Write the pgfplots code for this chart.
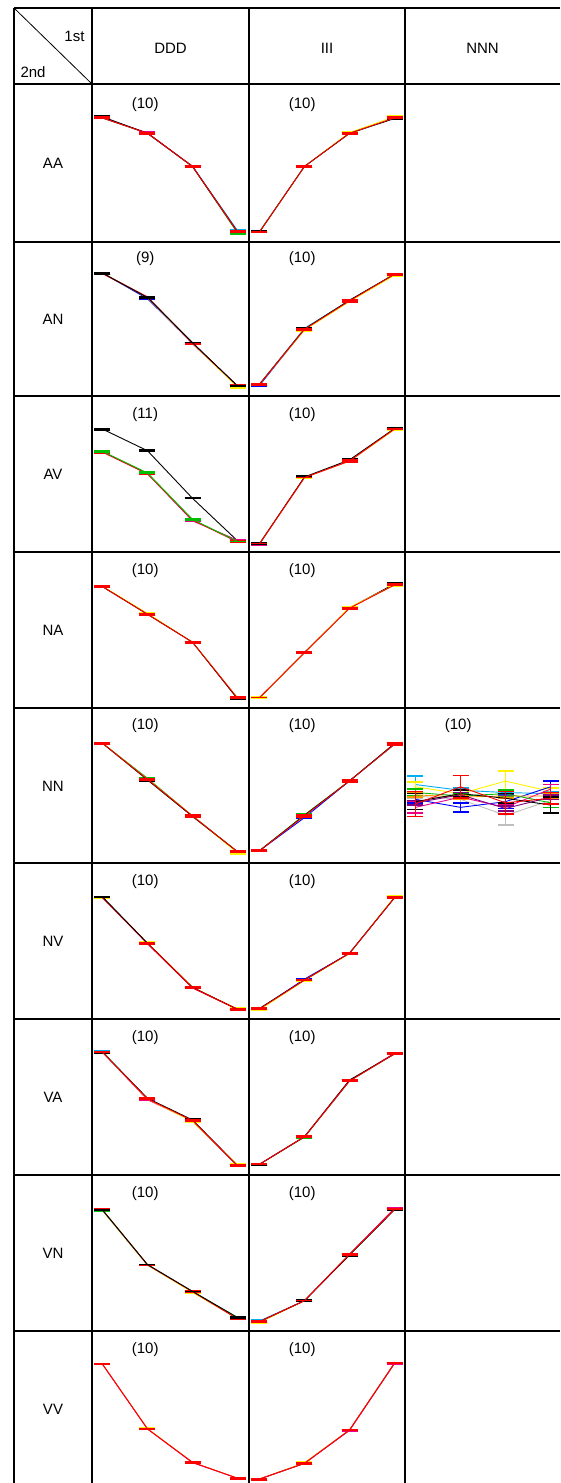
\documentclass[border=0pt]{standalone}
\usepackage{pgfplots}
\pgfplotsset{compat=1.18}
\usepackage{fontspec}
\setmainfont{Liberation Sans}
\definecolor{dgreen}{RGB}{0,190,0}
\definecolor{lgray}{RGB}{190,190,190}
\definecolor{ora}{RGB}{255,150,0}

\pgfplotsset{
  cell/.style={anchor=south west, scale only axis, width=156pt, height=156pt,
    axis lines=none, xmin=-0.233, xmax=3.233, ymin=-0.088, ymax=1.28, clip=false},
  eb/.style={no markers, line width=0.9pt,
    error bars/y dir=both, error bars/y explicit,
    error bars/error bar style={line width=0.9pt, solid},
    error bars/error mark options={rotate=90, line width=1.6pt, mark size=8pt}},
}
\newcommand{\nlab}[1]{\node[font=\fontsize{15}{18}\selectfont] at (axis cs:0.95,1.12) {(#1)};}

\begin{document}
\begin{tikzpicture}[x=1pt,y=1pt]
\path[use as bounding box] (0,0) rectangle (560,-1483);
\tikzset{lab/.style={font=\fontsize{15}{18}\selectfont}}

% table lines
\draw[line width=1.3pt] (14,-8) -- (560,-8);
\foreach \yy in {84,242,396,552,708,863,1019,1175,1331}
  \draw[line width=1.3pt] (14,-\yy) -- (560,-\yy);
\foreach \xx in {14,92,249,405}
  \draw[line width=1.3pt] (\xx,-8) -- (\xx,-1483);
\draw[line width=0.8pt] (14,-8) -- (92,-84);

% header
\node[lab, anchor=east] at (88,-36) {1st};
\node[lab, anchor=west] at (17,-72) {2nd};
\node[lab] at (170.5,-48) {DDD};
\node[lab] at (327,-48) {III};
\node[lab] at (482.5,-48) {NNN};
\node[lab] at (53,-163) {AA};
\node[lab] at (53,-319) {AN};
\node[lab] at (53,-474) {AV};
\node[lab] at (53,-630) {NA};
\node[lab] at (53,-786) {NN};
\node[lab] at (53,-941) {NV};
\node[lab] at (53,-1097) {VA};
\node[lab] at (53,-1253) {VN};
\node[lab] at (53,-1409) {VV};

% ---- AA ----
\begin{axis}[cell, at={(92pt,-242pt)}]
\addplot[cyan, eb] coordinates {(0,1.0) +- (0,0.006) (1,0.865) +- (0,0.006) (2,0.575) +- (0,0.006) (3,0.012) +- (0,0.006)};
\addplot[dgreen, eb] coordinates {(0,1.0) +- (0,0.006) (1,0.865) +- (0,0.006) (2,0.575) +- (0,0.006) (3,-0.01) +- (0,0.006)};
\addplot[magenta, eb] coordinates {(0,1.0) +- (0,0.006) (1,0.869) +- (0,0.006) (2,0.575) +- (0,0.006) (3,0.0) +- (0,0.006)};
\addplot[black, eb] coordinates {(0,1.01) +- (0,0.006) (1,0.865) +- (0,0.006) (2,0.575) +- (0,0.006) (3,0.002) +- (0,0.006)};
\addplot[red, eb] coordinates {(0,1.0) +- (0,0.006) (1,0.865) +- (0,0.006) (2,0.575) +- (0,0.006) (3,0.0) +- (0,0.006)};
\nlab{10}
\end{axis}
\begin{axis}[cell, at={(249pt,-242pt)}]
\addplot[cyan, eb] coordinates {(0,0.004) +- (0,0.006) (1,0.575) +- (0,0.006) (2,0.865) +- (0,0.006) (3,1.0) +- (0,0.006)};
\addplot[yellow, eb] coordinates {(0,0.0) +- (0,0.006) (1,0.575) +- (0,0.006) (2,0.872) +- (0,0.006) (3,1.01) +- (0,0.006)};
\addplot[black, eb] coordinates {(0,0.0) +- (0,0.006) (1,0.575) +- (0,0.006) (2,0.865) +- (0,0.006) (3,0.995) +- (0,0.006)};
\addplot[red, eb] coordinates {(0,0.0) +- (0,0.0) (1,0.575) +- (0,0.006) (2,0.865) +- (0,0.006) (3,1.0) +- (0,0.006)};
\nlab{10}
\end{axis}

% ---- AN ----
\begin{axis}[cell, at={(92pt,-396pt)}]
\addplot[magenta, eb] coordinates {(0,0.99) +- (0,0.006) (1,0.78) +- (0,0.006) (2,0.37) +- (0,0.006) (3,0.0) +- (0,0.006)};
\addplot[blue, eb] coordinates {(0,0.99) +- (0,0.006) (1,0.765) +- (0,0.006) (2,0.375) +- (0,0.006) (3,0.0) +- (0,0.006)};
\addplot[yellow, eb] coordinates {(0,0.99) +- (0,0.006) (1,0.775) +- (0,0.006) (2,0.375) +- (0,0.006) (3,-0.012) +- (0,0.006)};
\addplot[red, eb] coordinates {(0,0.985) +- (0,0.006) (1,0.78) +- (0,0.006) (2,0.375) +- (0,0.006) (3,0.0) +- (0,0.006)};
\addplot[black, eb] coordinates {(0,0.99) +- (0,0.006) (1,0.775) +- (0,0.006) (2,0.38) +- (0,0.0) (3,0.0) +- (0,0.0)};
\nlab{9}
\end{axis}
\begin{axis}[cell, at={(249pt,-396pt)}]
\addplot[blue, eb] coordinates {(0,0.005) +- (0,0.006) (1,0.497) +- (0,0.006) (2,0.746) +- (0,0.006) (3,0.98) +- (0,0.006)};
\addplot[cyan, eb] coordinates {(0,0.015) +- (0,0.006) (1,0.505) +- (0,0.006) (2,0.75) +- (0,0.006) (3,0.98) +- (0,0.006)};
\addplot[yellow, eb] coordinates {(0,0.015) +- (0,0.006) (1,0.49) +- (0,0.006) (2,0.74) +- (0,0.006) (3,0.97) +- (0,0.006)};
\addplot[black, eb] coordinates {(0,0.015) +- (0,0.006) (1,0.5) +- (0,0.006) (2,0.752) +- (0,0.006) (3,0.98) +- (0,0.006)};
\addplot[red, eb] coordinates {(0,0.015) +- (0,0.006) (1,0.497) +- (0,0.006) (2,0.746) +- (0,0.01) (3,0.98) +- (0,0.006)};
\nlab{10}
\end{axis}

% ---- AV ----
\begin{axis}[cell, at={(92pt,-552pt)}]
\addplot[black, eb] coordinates {(0,0.99) +- (0,0.006) (1,0.80) +- (0,0.006) (2,0.383) +- (0,0.0) (3,0.01) +- (0,0.006)};
\addplot[magenta, eb] coordinates {(0,0.79) +- (0,0.006) (1,0.60) +- (0,0.006) (2,0.185) +- (0,0.006) (3,0.015) +- (0,0.006)};
\addplot[red, eb] coordinates {(0,0.788) +- (0,0.006) (1,0.597) +- (0,0.006) (2,0.193) +- (0,0.006) (3,0.0) +- (0,0.006)};
\addplot[dgreen, eb] coordinates {(0,0.795) +- (0,0.006) (1,0.605) +- (0,0.006) (2,0.198) +- (0,0.006) (3,0.005) +- (0,0.0)};
\nlab{11}
\end{axis}
\begin{axis}[cell, at={(249pt,-552pt)}]
\addplot[magenta, eb] coordinates {(0,-0.018) +- (0,0.006) (1,0.565) +- (0,0.006) (2,0.71) +- (0,0.006) (3,0.99) +- (0,0.006)};
\addplot[yellow, eb] coordinates {(0,-0.015) +- (0,0.006) (1,0.565) +- (0,0.006) (2,0.71) +- (0,0.006) (3,0.985) +- (0,0.006)};
\addplot[black, eb] coordinates {(0,-0.015) +- (0,0.006) (1,0.57) +- (0,0.006) (2,0.72) +- (0,0.006) (3,0.995) +- (0,0.006)};
\addplot[red, eb] coordinates {(0,-0.015) +- (0,0.0) (1,0.565) +- (0,0.0) (2,0.71) +- (0,0.01) (3,0.99) +- (0,0.0)};
\nlab{10}
\end{axis}

% ---- NA ----
\begin{axis}[cell, at={(92pt,-708pt)}]
\addplot[yellow, eb] coordinates {(0,0.98) +- (0,0.006) (1,0.742) +- (0,0.006) (2,0.49) +- (0,0.006) (3,0.0) +- (0,0.006)};
\addplot[black, eb] coordinates {(0,0.976) +- (0,0.006) (1,0.734) +- (0,0.006) (2,0.489) +- (0,0.006) (3,-0.008) +- (0,0.006)};
\addplot[red, eb] coordinates {(0,0.976) +- (0,0.006) (1,0.734) +- (0,0.006) (2,0.489) +- (0,0.006) (3,0.0) +- (0,0.006)};
\nlab{10}
\end{axis}
\begin{axis}[cell, at={(249pt,-708pt)}]
\addplot[black, eb] coordinates {(0,0.0) +- (0,0.006) (1,0.4) +- (0,0.004) (2,0.79) +- (0,0.006) (3,1.0) +- (0,0.006)};
\addplot[yellow, eb] coordinates {(0,0.003) +- (0,0.006) (1,0.397) +- (0,0.004) (2,0.795) +- (0,0.006) (3,0.99) +- (0,0.006)};
\addplot[red, eb] coordinates {(0,0.003) +- (0,0.0) (1,0.397) +- (0,0.006) (2,0.787) +- (0,0.006) (3,0.991) +- (0,0.006)};
\nlab{10}
\end{axis}

% ---- NN ----
\begin{axis}[cell, at={(92pt,-863pt)}]
\addplot[dgreen, eb] coordinates {(0,0.962) +- (0,0.008) (1,0.655) +- (0,0.008) (2,0.325) +- (0,0.008) (3,0.011) +- (0,0.008)};
\addplot[yellow, eb] coordinates {(0,0.962) +- (0,0.008) (1,0.646) +- (0,0.008) (2,0.325) +- (0,0.008) (3,0.0) +- (0,0.008)};
\addplot[black, eb] coordinates {(0,0.962) +- (0,0.008) (1,0.64) +- (0,0.008) (2,0.32) +- (0,0.008) (3,0.011) +- (0,0.008)};
\addplot[red, eb] coordinates {(0,0.962) +- (0,0.008) (1,0.646) +- (0,0.008) (2,0.325) +- (0,0.008) (3,0.011) +- (0,0.008)};
\nlab{10}
\end{axis}
\begin{axis}[cell, at={(249pt,-863pt)}]
\addplot[blue, eb] coordinates {(0,0.02) +- (0,0.008) (1,0.31) +- (0,0.008) (2,0.632) +- (0,0.008) (3,0.954) +- (0,0.008)};
\addplot[dgreen, eb] coordinates {(0,0.02) +- (0,0.008) (1,0.335) +- (0,0.008) (2,0.632) +- (0,0.008) (3,0.954) +- (0,0.008)};
\addplot[black, eb] coordinates {(0,0.02) +- (0,0.008) (1,0.33) +- (0,0.008) (2,0.632) +- (0,0.008) (3,0.96) +- (0,0.008)};
\addplot[red, eb] coordinates {(0,0.02) +- (0,0.008) (1,0.325) +- (0,0.008) (2,0.632) +- (0,0.008) (3,0.954) +- (0,0.008)};
\nlab{10}
\end{axis}
\begin{axis}[cell, at={(405pt,-863pt)}]
\addplot[cyan, eb] coordinates {(0,0.60) +- (0,0.075) (1,0.55) +- (0,0.02) (2,0.53) +- (0,0.02) (3,0.52) +- (0,0.02)};
\addplot[yellow, eb] coordinates {(0,0.58) +- (0,0.045) (1,0.52) +- (0,0.03) (2,0.63) +- (0,0.09) (3,0.54) +- (0,0.03)};
\addplot[lgray, eb] coordinates {(0,0.50) +- (0,0.02) (1,0.47) +- (0,0.03) (2,0.33) +- (0,0.085) (3,0.46) +- (0,0.03)};
\addplot[blue, eb] coordinates {(0,0.47) +- (0,0.03) (1,0.40) +- (0,0.04) (2,0.45) +- (0,0.06) (3,0.58) +- (0,0.05)};
\addplot[magenta, eb] coordinates {(0,0.40) +- (0,0.05) (1,0.49) +- (0,0.02) (2,0.40) +- (0,0.03) (3,0.56) +- (0,0.04)};
\addplot[dgreen, eb] coordinates {(0,0.53) +- (0,0.03) (1,0.50) +- (0,0.02) (2,0.52) +- (0,0.03) (3,0.44) +- (0,0.04)};
\addplot[ora, eb] coordinates {(0,0.51) +- (0,0.02) (1,0.49) +- (0,0.02) (2,0.50) +- (0,0.02) (3,0.50) +- (0,0.02)};
\addplot[violet, eb] coordinates {(0,0.44) +- (0,0.02) (1,0.51) +- (0,0.02) (2,0.39) +- (0,0.02) (3,0.49) +- (0,0.02)};
\addplot[black, eb] coordinates {(0,0.45) +- (0,0.07) (1,0.52) +- (0,0.03) (2,0.48) +- (0,0.04) (3,0.42) +- (0,0.07)};
\addplot[red, eb] coordinates {(0,0.43) +- (0,0.11) (1,0.58) +- (0,0.10) (2,0.44) +- (0,0.10) (3,0.48) +- (0,0.05)};
\nlab{10}
\end{axis}

% ---- NV ----
\begin{axis}[cell, at={(92pt,-1019pt)}]
\addplot[yellow, eb] coordinates {(0,0.976) +- (0,0.006) (1,0.58) +- (0,0.006) (2,0.19) +- (0,0.006) (3,0.0) +- (0,0.006)};
\addplot[magenta, eb] coordinates {(0,0.976) +- (0,0.0) (1,0.572) +- (0,0.006) (2,0.184) +- (0,0.006) (3,-0.003) +- (0,0.006)};
\addplot[red, eb] coordinates {(0,0.976) +- (0,0.0) (1,0.576) +- (0,0.006) (2,0.187) +- (0,0.004) (3,-0.003) +- (0,0.006)};
\addplot[black, eb] coordinates {(0,0.984) +- (0,0.0) (1,0.576) +- (0,0.0) (2,0.19) +- (0,0.0) (3,-0.003) +- (0,0.0)};
\addplot[red, eb] coordinates {(1,0.576) +- (0,0.0) (2,0.187) +- (0,0.0) (3,-0.003) +- (0,0.0)};
\nlab{10}
\end{axis}
\begin{axis}[cell, at={(249pt,-1019pt)}]
\addplot[blue, eb] coordinates {(0,0.0) +- (0,0.006) (1,0.262) +- (0,0.006) (2,0.489) +- (0,0.006) (3,0.976) +- (0,0.006)};
\addplot[yellow, eb] coordinates {(0,-0.008) +- (0,0.006) (1,0.25) +- (0,0.006) (2,0.485) +- (0,0.006) (3,0.984) +- (0,0.006)};
\addplot[black, eb] coordinates {(0,0.005) +- (0,0.006) (1,0.254) +- (0,0.006) (2,0.489) +- (0,0.006) (3,0.976) +- (0,0.006)};
\addplot[red, eb] coordinates {(0,0.0) +- (0,0.006) (1,0.254) +- (0,0.006) (2,0.489) +- (0,0.006) (3,0.976) +- (0,0.006)};
\nlab{10}
\end{axis}

% ---- VA ----
\begin{axis}[cell, at={(92pt,-1175pt)}]
\addplot[cyan, eb] coordinates {(0,0.996) +- (0,0.006) (1,0.579) +- (0,0.006) (2,0.389) +- (0,0.006) (3,-0.006) +- (0,0.006)};
\addplot[magenta, eb] coordinates {(0,0.989) +- (0,0.006) (1,0.572) +- (0,0.006) (2,0.389) +- (0,0.006) (3,-0.006) +- (0,0.006)};
\addplot[yellow, eb] coordinates {(0,0.989) +- (0,0.006) (1,0.579) +- (0,0.006) (2,0.38) +- (0,0.006) (3,0.002) +- (0,0.006)};
\addplot[black, eb] coordinates {(0,0.989) +- (0,0.006) (1,0.585) +- (0,0.006) (2,0.395) +- (0,0.006) (3,-0.006) +- (0,0.006)};
\addplot[red, eb] coordinates {(0,0.989) +- (0,0.0) (1,0.579) +- (0,0.006) (2,0.389) +- (0,0.006) (3,-0.006) +- (0,0.006)};
\nlab{10}
\end{axis}
\begin{axis}[cell, at={(249pt,-1175pt)}]
\addplot[dgreen, eb] coordinates {(0,0.006) +- (0,0.006) (1,0.244) +- (0,0.006) (2,0.737) +- (0,0.006) (3,0.974) +- (0,0.006)};
\addplot[magenta, eb] coordinates {(0,0.006) +- (0,0.006) (1,0.248) +- (0,0.006) (2,0.737) +- (0,0.006) (3,0.98) +- (0,0.006)};
\addplot[black, eb] coordinates {(0,0.006) +- (0,0.006) (1,0.248) +- (0,0.006) (2,0.745) +- (0,0.006) (3,0.974) +- (0,0.006)};
\addplot[red, eb] coordinates {(0,0.006) +- (0,0.0) (1,0.248) +- (0,0.006) (2,0.737) +- (0,0.006) (3,0.974) +- (0,0.006)};
\nlab{10}
\end{axis}

% ---- VN ----
\begin{axis}[cell, at={(92pt,-1331pt)}]
\addplot[dgreen, eb] coordinates {(0,0.968) +- (0,0.006) (1,0.491) +- (0,0.006) (2,0.257) +- (0,0.006) (3,0.03) +- (0,0.006)};
\addplot[yellow, eb] coordinates {(0,0.974) +- (0,0.006) (1,0.491) +- (0,0.006) (2,0.25) +- (0,0.006) (3,0.024) +- (0,0.006)};
\addplot[red, eb] coordinates {(0,0.974) +- (0,0.006) (1,0.491) +- (0,0.0) (2,0.257) +- (0,0.006) (3,0.018) +- (0,0.006)};
\addplot[black, eb] coordinates {(0,0.974) +- (0,0.0) (1,0.495) +- (0,0.0) (2,0.26) +- (0,0.0) (3,0.03) +- (0,0.006)};
\nlab{10}
\end{axis}
\begin{axis}[cell, at={(249pt,-1331pt)}]
\addplot[cyan, eb] coordinates {(0,0.0) +- (0,0.006) (1,0.178) +- (0,0.006) (2,0.585) +- (0,0.006) (3,0.98) +- (0,0.006)};
\addplot[yellow, eb] coordinates {(0,-0.014) +- (0,0.006) (1,0.178) +- (0,0.006) (2,0.585) +- (0,0.006) (3,0.98) +- (0,0.006)};
\addplot[magenta, eb] coordinates {(0,-0.006) +- (0,0.006) (1,0.178) +- (0,0.006) (2,0.585) +- (0,0.006) (3,0.988) +- (0,0.006)};
\addplot[black, eb] coordinates {(0,-0.006) +- (0,0.006) (1,0.178) +- (0,0.006) (2,0.578) +- (0,0.006) (3,0.975) +- (0,0.006)};
\addplot[red, eb] coordinates {(0,-0.006) +- (0,0.006) (1,0.178) +- (0,0.0) (2,0.585) +- (0,0.006) (3,0.98) +- (0,0.0)};
\nlab{10}
\end{axis}

% ---- VV ----
\begin{axis}[cell, at={(92pt,-1487pt)}]
\addplot[yellow, eb] coordinates {(0,0.989) +- (0,0.0) (1,0.426) +- (0,0.004) (2,0.129) +- (0,0.006) (3,-0.011) +- (0,0.006)};
\addplot[magenta, eb] coordinates {(0,0.989) +- (0,0.0) (1,0.421) +- (0,0.004) (2,0.125) +- (0,0.006) (3,-0.011) +- (0,0.006)};
\addplot[red, eb] coordinates {(0,0.989) +- (0,0.0) (1,0.421) +- (0,0.0) (2,0.129) +- (0,0.004) (3,-0.011) +- (0,0.006)};
\nlab{10}
\end{axis}
\begin{axis}[cell, at={(249pt,-1487pt)}]
\addplot[black, eb] coordinates {(0,-0.018) +- (0,0.006) (1,0.12) +- (0,0.006) (2,0.412) +- (0,0.004) (3,0.997) +- (0,0.004)};
\addplot[yellow, eb] coordinates {(0,-0.018) +- (0,0.006) (1,0.125) +- (0,0.006) (2,0.412) +- (0,0.004) (3,0.997) +- (0,0.004)};
\addplot[magenta, eb] coordinates {(0,-0.018) +- (0,0.006) (1,0.12) +- (0,0.006) (2,0.408) +- (0,0.004) (3,0.997) +- (0,0.006)};
\addplot[red, eb] coordinates {(0,-0.018) +- (0,0.006) (1,0.12) +- (0,0.006) (2,0.412) +- (0,0.0) (3,0.997) +- (0,0.0)};
\nlab{10}
\end{axis}
\end{tikzpicture}
\end{document}
